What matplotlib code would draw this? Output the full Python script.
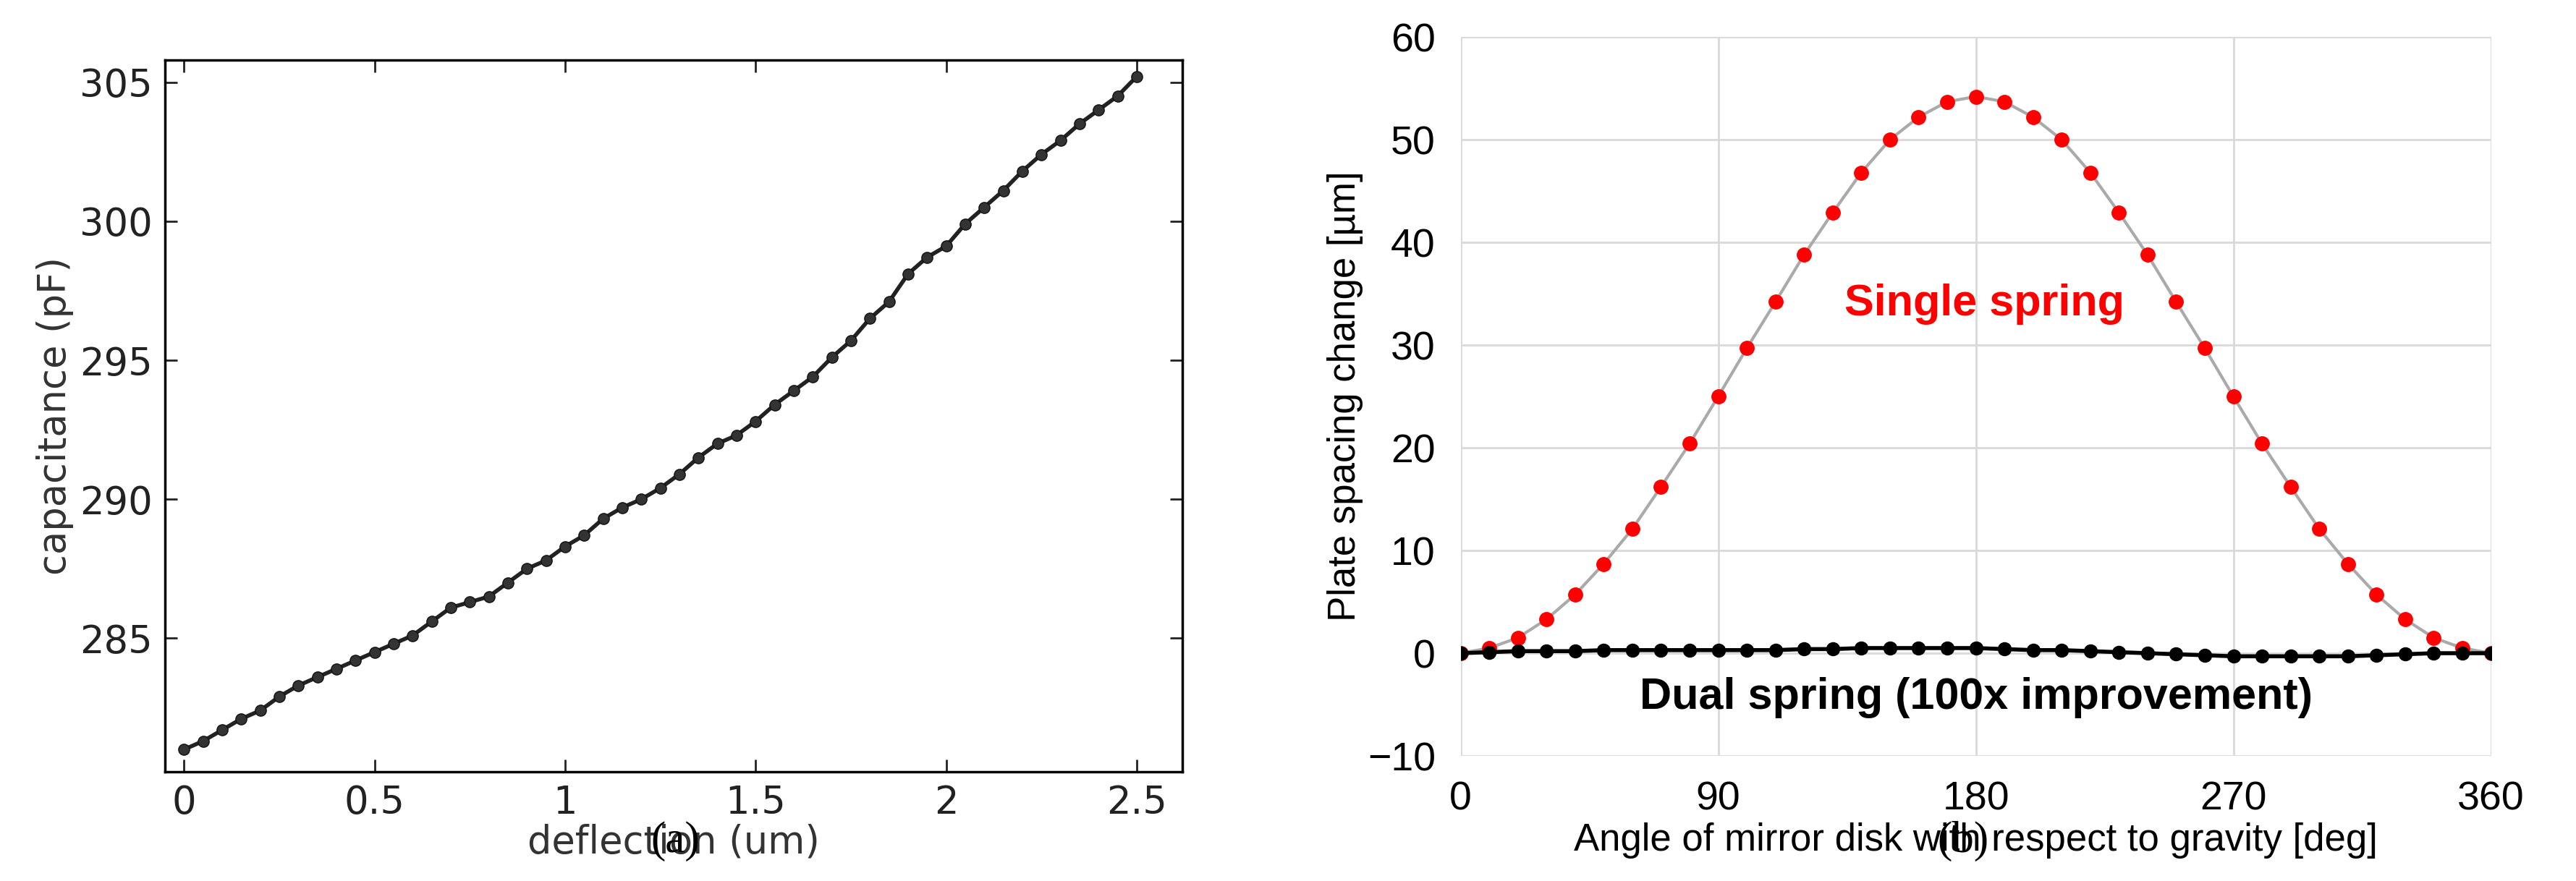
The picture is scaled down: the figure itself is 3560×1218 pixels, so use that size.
import matplotlib
matplotlib.use("Agg")
import matplotlib.pyplot as plt
import numpy as np

# Panel (a)
defl = [0,0.05,0.1,0.15,0.2,0.25,0.3,0.35,0.4,0.45,0.5,0.55,0.6,0.65,0.7,0.75,0.8,0.85,0.9,0.95,
        1.0,1.05,1.1,1.15,1.2,1.25,1.3,1.35,1.4,1.45,1.5,1.55,1.6,1.65,1.7,1.75,1.8,1.85,1.9,1.95,
        2.0,2.05,2.1,2.15,2.2,2.25,2.3,2.35,2.4,2.45,2.5]
cap = [281.0,281.3,281.7,282.1,282.4,282.9,283.3,283.6,283.9,284.2,284.5,284.8,285.1,285.6,286.1,286.3,
       286.5,287.0,287.5,287.8,288.3,288.7,289.3,289.7,290.0,290.4,290.9,291.5,292.0,292.3,292.8,293.4,
       293.9,294.4,295.1,295.7,296.5,297.1,298.1,298.7,299.1,299.9,300.5,301.1,301.8,302.4,302.9,303.5,
       304.0,304.5,305.2]
a_xticks = [0,0.5,1,1.5,2,2.5]
a_xticklabels = ["0","0.5","1","1.5","2","2.5"]
a_yticks = [285,290,295,300,305]

# Panel (b)
angle = list(range(0,361,10))
single = [0,0.5,1.5,3.3,5.7,8.7,12.1,16.2,20.4,25,29.7,34.2,38.8,42.9,46.8,50,52.2,53.7,54.2,
          53.7,52.2,50,46.8,42.9,38.8,34.2,29.7,25,20.4,16.2,12.1,8.7,5.7,3.3,1.5,0.5,0]
dual = [0,0.1,0.2,0.2,0.2,0.3,0.3,0.3,0.3,0.3,0.3,0.3,0.4,0.4,0.5,0.5,0.5,0.5,0.5,0.4,0.3,0.3,
        0.2,0.1,0,-0.1,-0.2,-0.3,-0.3,-0.3,-0.3,-0.3,-0.2,-0.1,0,0,0]
b_xticks = [0,90,180,270,360]
b_yticks = [-10,0,10,20,30,40,50,60]

fig = plt.figure(figsize=(35.6,12.18), dpi=100)

ax = fig.add_axes([0.064,0.124,0.395,0.808])
ax.plot(defl, cap, color="#222222", lw=4, marker="o", ms=11, mfc="#333333", mec="#111111")
ax.set_xlim(-0.05,2.62)
ax.set_ylim(280.2,305.8)
ax.set_xticks(a_xticks)
ax.set_xticklabels(a_xticklabels)
ax.set_yticks(a_yticks)
ax.tick_params(labelsize=38, direction="in", length=12, width=2, right=True, top=True,
               colors="#222222", pad=12)
for s in ax.spines.values():
    s.set_linewidth(2.5)
ax.set_xlabel("deflection (um)", fontsize=38, color="#333333", labelpad=2)
ax.set_ylabel("capacitance (pF)", fontsize=38, color="#333333", labelpad=6)

bx = fig.add_axes([0.567,0.142,0.4,0.816])
bx.plot(angle, single, color="#aaaaaa", lw=3, zorder=2)
bx.plot(angle, single, ls="none", marker="o", ms=14, mfc="#ff0000", mec="#ff0000", zorder=3)
bx.plot(angle, dual, color="black", lw=4, marker="o", ms=13, mfc="black", mec="black", zorder=4)
bx.set_xlim(0,360)
bx.set_ylim(-10,60)
bx.set_xticks(b_xticks)
bx.set_yticks(b_yticks)
bx.grid(True, color="#d9d9d9", lw=2)
bx.set_axisbelow(True)
for s in bx.spines.values():
    s.set_visible(False)
bx.tick_params(length=0, labelsize=40, pad=25)
for t in bx.get_xticklabels() + bx.get_yticklabels():
    t.set_family("Liberation Sans")
bx.set_xlabel("Angle of mirror disk with respect to gravity [deg]", fontsize=38, family="Liberation Sans", labelpad=4)
bx.set_ylabel("Plate spacing change [\u00b5m]", fontsize=38, family="Liberation Sans", labelpad=4)
bx.text(183, 34, "Single spring", color="#ff0000", fontsize=44, fontweight="bold",
        family="Liberation Sans", ha="center", va="center")
bx.text(180, -4.3, "Dual spring (100x improvement)", color="black", fontsize=44, fontweight="bold",
        family="Liberation Sans", ha="center", va="center")

fig.text(0.262, 0.045, "(a)", fontsize=44, family="Liberation Serif", ha="center", va="center")
fig.text(0.762, 0.045, "(b)", fontsize=44, family="Liberation Serif", ha="center", va="center")

fig.savefig("out.png", dpi=100)
